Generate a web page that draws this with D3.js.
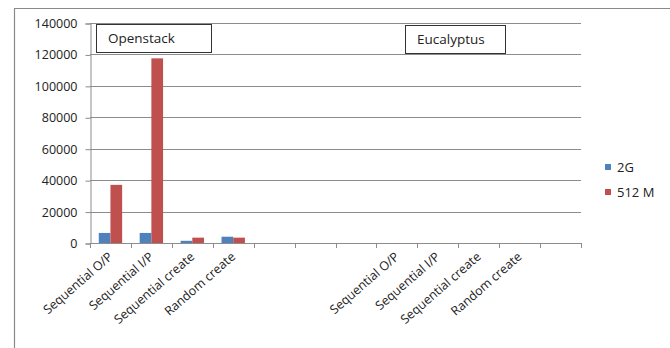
<!DOCTYPE html>
<html>
<head>
<meta charset="utf-8">
<script src="https://cdn.jsdelivr.net/npm/d3@7"></script>
<style>
  body { margin: 0; background: #fff; }
  text { font-family: "Open Sans", sans-serif; fill: #222; }
</style>
</head>
<body>
<script>
// categories (blank ones are the empty slots between the two groups)
var categories = ["Sequential O/P", "Sequential I/P", "Sequential create", "Random create",
                  " ", "  ", "   ",
                  "Sequential O/P ", "Sequential I/P ", "Sequential create ", "Random create ", "    "];
var series = ["2G", "512 M"];
var values2G   = [6400, 6400, 1400, 4000, 0, 0, 0, 0, 0, 0, 0, 0];
var values512M = [37000, 117500, 3400, 3400, 0, 0, 0, 0, 0, 0, 0, 0];
var yTicks = [0, 20000, 40000, 60000, 80000, 100000, 120000, 140000];
var colors = ["#4F81BD", "#C0504D"];
var groupLabels = ["Openstack", "Eucalyptus"];

var width = 670, height = 348;
var svg = d3.select("body").append("svg")
    .attr("width", width)
    .attr("height", height);

// outer chart border (left + top only visible)
svg.append("path")
    .attr("d", "M14.5,348 L14.5,8.5 L670,8.5")
    .attr("fill", "none")
    .attr("stroke", "#8a8a8a")
    .attr("stroke-width", 1.2);

var x = d3.scaleBand()
    .domain(categories)
    .range([90, 581]);

var y = d3.scaleLinear()
    .domain([0, 140000])
    .range([243, 23]);

// gridlines
svg.append("g")
  .selectAll("line")
  .data(yTicks.slice(1))
  .enter().append("line")
    .attr("x1", 90).attr("x2", 581)
    .attr("y1", d => Math.round(y(d)) + 0.5)
    .attr("y2", d => Math.round(y(d)) + 0.5)
    .attr("stroke", "#8c8c8c");

// y axis
var leftAxis = d3.axisLeft(y).tickValues(yTicks).tickSize(5).tickPadding(8).tickFormat(d3.format("d"));
var gy = svg.append("g")
    .attr("transform", "translate(90.5,0.5)")
    .call(leftAxis);
gy.select(".domain").attr("stroke", "#8c8c8c");
gy.selectAll(".tick line").attr("stroke", "#8c8c8c");
gy.selectAll("text")
    .style("font-size", "12.5px")
    .style("font-family", "Open Sans, sans-serif")
    .attr("fill", "#222");

// bars
var sub = d3.scaleBand()
    .domain(series)
    .range([0, x.bandwidth()])
    .paddingInner(0)
    .paddingOuter(0.75);

var rows = categories.map((c, i) => ({cat: c, vals: [values2G[i], values512M[i]]}));

svg.append("g")
  .selectAll("g")
  .data(rows)
  .enter().append("g")
    .attr("transform", d => "translate(" + x(d.cat) + ",0)")
  .selectAll("rect")
  .data(d => d.vals.map((v, j) => ({s: series[j], v: v, j: j})))
  .enter().append("rect")
    .filter(d => d.v > 0)
    .attr("x", d => sub(d.s))
    .attr("width", sub.bandwidth())
    .attr("y", d => y(d.v))
    .attr("height", d => y(0) - y(d.v))
    .attr("fill", d => colors[d.j]);

// x axis line and ticks at category boundaries
var boundaries = categories.map(c => x(c)).concat([x.range()[1]]);
svg.append("line")
    .attr("x1", 90).attr("x2", 581)
    .attr("y1", 243.5).attr("y2", 243.5)
    .attr("stroke", "#8c8c8c");
svg.append("g")
  .selectAll("line")
  .data(boundaries)
  .enter().append("line")
    .attr("x1", d => Math.round(d) + 0.5).attr("x2", d => Math.round(d) + 0.5)
    .attr("y1", 243).attr("y2", 248)
    .attr("stroke", "#8c8c8c");

// rotated category labels
svg.append("g")
  .selectAll("text")
  .data(categories)
  .enter().append("text")
    .attr("transform", d => "translate(" + (x(d) + x.bandwidth() / 2 + 3) + ",258) rotate(-41)")
    .attr("text-anchor", "end")
    .style("font-size", "12.5px")
    .text(d => d.trim());

// group label boxes
var boxes = [{label: groupLabels[0], x: 96, y: 24, w: 115, h: 28},
             {label: groupLabels[1], x: 405, y: 25, w: 100, h: 28}];
boxes.forEach(function(b) {
  svg.append("rect")
      .attr("x", b.x + 0.5).attr("y", b.y + 0.5)
      .attr("width", b.w).attr("height", b.h)
      .attr("fill", "#fff")
      .attr("stroke", "#333");
  svg.append("text")
      .attr("x", b.x + 12).attr("y", b.y + 19)
      .style("font-size", "13.5px")
      .text(b.label);
});

// legend
var legend = svg.append("g")
  .selectAll("g")
  .data(series)
  .enter().append("g")
    .attr("transform", (d, i) => "translate(605," + (164 + i * 25) + ")");
legend.append("rect")
    .attr("width", 6).attr("height", 6)
    .attr("fill", (d, i) => colors[i]);
legend.append("text")
    .attr("x", 12).attr("y", 8)
    .style("font-size", "13px")
    .text(d => d);
</script>
</body>
</html>
